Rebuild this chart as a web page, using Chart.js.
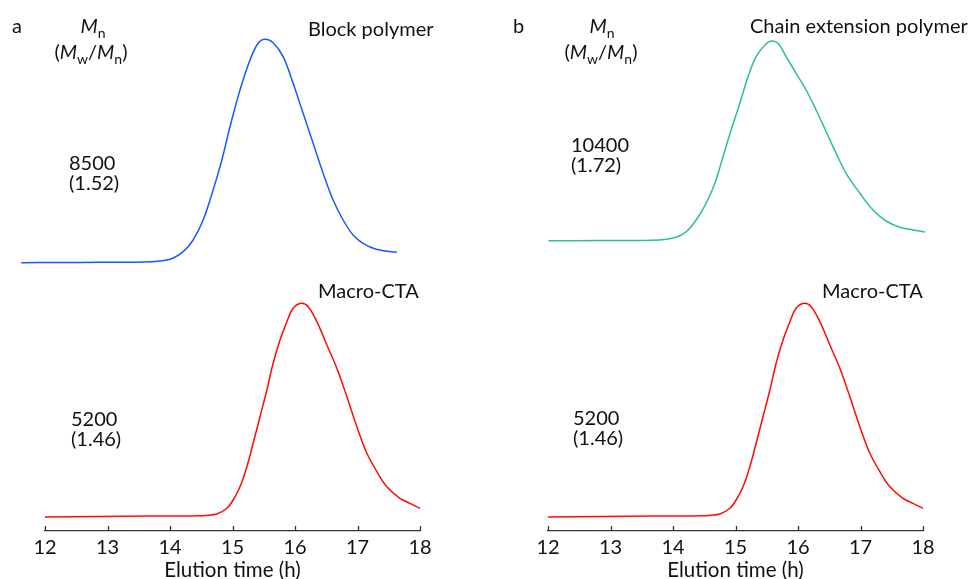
<!DOCTYPE html>
<html>
<head>
<meta charset="utf-8">
<script src="https://cdn.jsdelivr.net/npm/chart.js@4.4.1/dist/chart.umd.min.js"></script>
<style>
  html, body { margin: 0; padding: 0; background: #fff; }
  #wrap { position: relative; width: 975px; height: 579px; overflow: hidden; }
  .panel { position: absolute; top: 0; height: 579px; }
  #panelA { left: 0; width: 487px; }
  #panelB { left: 487px; width: 488px; }
</style>
</head>
<body>
<div id="wrap">
  <div class="panel" id="panelA"><canvas id="chartA"></canvas></div>
  <div class="panel" id="panelB"><canvas id="chartB"></canvas></div>
</div>
<script>
// GPC traces, elution time (h) vs. detector signal (offset, a.u.)
const blockTime = [11.62, 12.24, 12.88, 13.68, 14.0, 14.21, 14.37, 14.53, 14.69, 14.83, 14.96, 15.12, 15.28, 15.41, 15.52, 15.65, 15.81, 15.97, 16.13, 16.29, 16.45, 16.61, 16.77, 16.93, 17.09, 17.30, 17.63];
const blockSignal = [2.683, 2.685, 2.687, 2.693, 2.717, 2.793, 2.91, 3.11, 3.41, 3.71, 4.043, 4.41, 4.71, 4.877, 4.917, 4.883, 4.743, 4.477, 4.177, 3.877, 3.577, 3.31, 3.11, 2.96, 2.877, 2.817, 2.787];

const chainTime = [12.01, 12.83, 13.79, 14.05, 14.21, 14.37, 14.53, 14.67, 14.80, 14.93, 15.07, 15.20, 15.33, 15.47, 15.57, 15.68, 15.81, 15.97, 16.13, 16.29, 16.45, 16.61, 16.77, 16.99, 17.20, 17.41, 17.63, 17.84, 18.03];
const chainSignal = [2.903, 2.904, 2.91, 2.937, 2.993, 3.11, 3.277, 3.477, 3.743, 4.01, 4.277, 4.543, 4.743, 4.86, 4.90, 4.877, 4.743, 4.577, 4.41, 4.21, 3.993, 3.777, 3.577, 3.377, 3.21, 3.10, 3.037, 3.01, 2.99];

const macroTime = [12.0, 12.88, 13.68, 14.48, 14.75, 14.91, 15.01, 15.12, 15.23, 15.33, 15.44, 15.55, 15.65, 15.76, 15.87, 15.97, 16.10, 16.21, 16.35, 16.51, 16.67, 16.83, 16.99, 17.15, 17.31, 17.47, 17.68, 17.84, 18.0];
const macroSignal = [0.141, 0.145, 0.15, 0.153, 0.17, 0.227, 0.31, 0.443, 0.643, 0.877, 1.143, 1.41, 1.677, 1.91, 2.093, 2.227, 2.277, 2.243, 2.093, 1.86, 1.627, 1.343, 1.043, 0.777, 0.593, 0.443, 0.327, 0.277, 0.227];

const timeTicks = [12, 13, 14, 15, 16, 17, 18];

const FONT = "Lato, 'Open Sans', sans-serif";
const TEXT = "#111";
const AXIS = "#333";
const LABEL_SIZE = 20;

const toPoints = (xs, ys) => xs.map((x, i) => ({ x, y: ys[i] }));

// small helper for labels with italic M and subscripts
const drawRich = (ctx, parts, x, y, align) => {
  const fontOf = (p) => (p.it ? "italic " : "") + (p.sub ? 14 : LABEL_SIZE) + "px " + FONT;
  const total = parts.reduce((s, p) => { ctx.font = fontOf(p); return s + ctx.measureText(p.t).width; }, 0);
  let cx = align === "center" ? x - total / 2 : x;
  parts.forEach(p => {
    ctx.font = fontOf(p);
    ctx.fillText(p.t, cx, p.sub ? y + 5 : y);
    cx += ctx.measureText(p.t).width;
  });
};

const mnLabel = [{ t: "M", it: true }, { t: "n", sub: true }];
const pdiLabel = [{ t: "(" }, { t: "M", it: true }, { t: "w", sub: true }, { t: "/" }, { t: "M", it: true }, { t: "n", sub: true }, { t: ")" }];

// inward tick marks + panel annotations
const panelDecor = {
  id: "panelDecor",
  afterDraw(chart, args, opts) {
    const { ctx, chartArea, scales } = chart;
    ctx.save();
    ctx.strokeStyle = AXIS;
    ctx.lineWidth = 1.3;
    timeTicks.forEach(t => {
      const px = Math.round(scales.x.getPixelForValue(t)) + 0.5;
      ctx.beginPath();
      ctx.moveTo(px, chartArea.bottom);
      ctx.lineTo(px, chartArea.bottom - 5);
      ctx.stroke();
    });

    ctx.fillStyle = TEXT;
    ctx.textBaseline = "alphabetic";
    ctx.textAlign = "left";
    opts.texts.forEach(([txt, x, y]) => {
      ctx.font = LABEL_SIZE + "px " + FONT;
      ctx.fillText(txt, x, y);
    });
    drawRich(ctx, mnLabel, opts.mn[0], opts.mn[1], "center");
    drawRich(ctx, pdiLabel, opts.pdi[0], opts.pdi[1], "center");
    ctx.restore();
  }
};

const makeChart = (id, traces, pad, decor) => new Chart(document.getElementById(id), {
  type: "line",
  data: {
    datasets: traces.map(([pts, color]) => ({
      data: pts,
      borderColor: color,
      borderWidth: 1.5,
      pointRadius: 0,
      fill: false,
      tension: 0.35,
      clip: false
    }))
  },
  options: {
    responsive: true,
    maintainAspectRatio: false,
    animation: false,
    events: [],
    layout: { padding: { left: pad[0], right: pad[1], top: 31, bottom: 0 } },
    plugins: { legend: { display: false }, tooltip: { enabled: false }, panelDecor: decor },
    scales: {
      x: {
        type: "linear",
        min: 12,
        max: 18,
        afterBuildTicks: (scale) => { scale.ticks = timeTicks.map(v => ({ value: v })); },
        afterFit: (scale) => { scale.height = 48; },
        grid: { display: false, drawTicks: false },
        border: { display: true, color: AXIS, width: 1.3 },
        ticks: { color: TEXT, padding: 5, maxRotation: 0, font: { family: FONT, size: 20 } },
        title: {
          display: true,
          text: "Elution time (h)",
          color: TEXT,
          padding: { top: 0, bottom: 0 },
          font: { family: FONT, size: 20.5, lineHeight: 0.8 }
        }
      },
      y: { display: false, min: 0, max: 5 }
    }
  },
  plugins: [panelDecor]
});

makeChart("chartA",
  [[toPoints(blockTime, blockSignal), "#1758ff"], [toPoints(macroTime, macroSignal), "#ff0a0a"]],
  [45, 67],
  {
    texts: [["a", 12, 33], ["Block polymer", 308, 36], ["8500", 69, 170], ["(1.52)", 69, 190],
            ["Macro-CTA", 318, 298], ["5200", 71, 426], ["(1.46)", 71, 446]],
    mn: [93, 33],
    pdi: [91, 59]
  });

makeChart("chartB",
  [[toPoints(chainTime, chainSignal), "#2cc47c"], [toPoints(macroTime, macroSignal), "#ff0a0a"]],
  [61, 52],
  {
    texts: [["b", 26, 33], ["Chain extension polymer", 750 - 487, 33], ["10400", 84, 152], ["(1.72)", 84, 172],
            ["Macro-CTA", 335, 298], ["5200", 86, 425], ["(1.46)", 86, 445]],
    mn: [115, 33],
    pdi: [114, 59]
  });
</script>
</body>
</html>
